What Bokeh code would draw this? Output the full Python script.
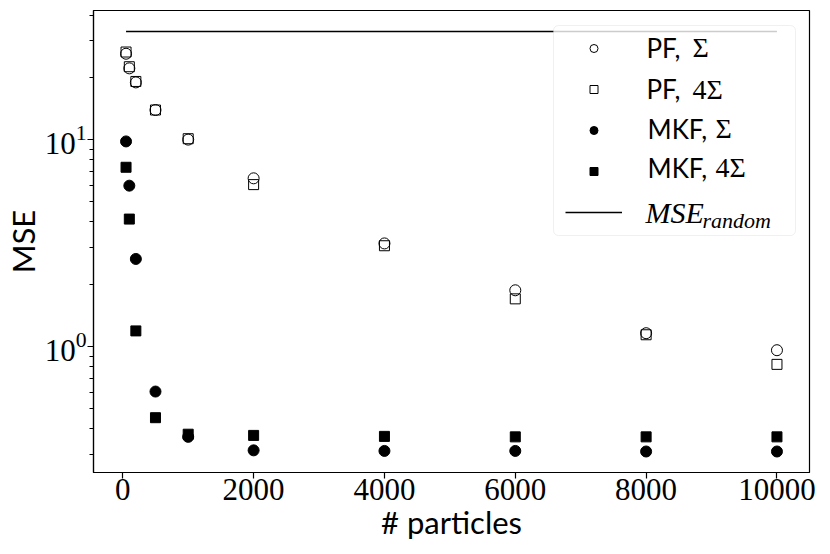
import math
from bokeh.plotting import figure
from bokeh.models import (Range1d, Legend, LegendItem, Label, BoxAnnotation,
                          FixedTicker)
from bokeh.embed import file_html
from bokeh.resources import INLINE

# ---- data ----
particles = [50, 100, 200, 500, 1000, 2000, 4000, 6000, 8000, 10000]
pf_sigma = [26.0, 22.1, 18.9, 13.9, 10.0, 6.5, 3.15, 1.87, 1.16, 0.96]
pf_4sigma = [26.5, 22.5, 19.1, 13.9, 10.1, 6.06, 3.07, 1.70, 1.14, 0.82]
mkf_sigma = [9.8, 5.99, 2.65, 0.606, 0.366, 0.315, 0.313, 0.313, 0.311, 0.311]
mkf_4sigma = [7.35, 4.13, 1.19, 0.453, 0.377, 0.372, 0.368, 0.366, 0.366, 0.366]
mse_random = 33.3

x_ticks = [0, 2000, 4000, 6000, 8000, 10000]
y_ticks = [1, 10]
y_minor = [0.3, 0.4, 0.5, 0.6, 0.7, 0.8, 0.9, 2, 3, 4, 5, 6, 7, 8, 9, 20, 30, 40]

# matplotlib-like 5% margins
xmin, xmax = min(particles), max(particles)
xpad = 0.05 * (xmax - xmin)
allv = pf_sigma + pf_4sigma + mkf_sigma + mkf_4sigma + [mse_random]
lmin, lmax = math.log10(min(allv)), math.log10(max(allv))
lpad = 0.05 * (lmax - lmin)

p = figure(width=830, height=554, y_axis_type="log",
           x_range=Range1d(xmin - xpad, xmax + xpad),
           y_range=Range1d(10 ** (lmin - lpad), 10 ** (lmax + lpad)),
           min_border_left=93, min_border_right=21, min_border_top=10,
           min_border_bottom=82,
           output_backend="svg", toolbar_location=None)

p.xgrid.visible = False
p.ygrid.visible = False
p.outline_line_color = "black"
p.outline_line_width = 1.2
p.background_fill_color = "white"
p.border_fill_color = "white"

r_pf1 = p.scatter(particles, pf_sigma, marker="circle", size=11,
                  fill_color=None, line_color="black", line_width=1)
r_pf4 = p.scatter(particles, pf_4sigma, marker="square", size=10,
                  fill_color=None, line_color="black", line_width=1)
r_mk1 = p.scatter(particles, mkf_sigma, marker="circle", size=11,
                  fill_color="black", line_color="black", line_width=1)
r_mk4 = p.scatter(particles, mkf_4sigma, marker="square", size=10,
                  fill_color="black", line_color="black", line_width=1)
r_line = p.line([xmin, xmax], [mse_random, mse_random],
                line_color="black", line_width=1.6)

# axes
for ax in (p.xaxis[0], p.yaxis[0]):
    ax.axis_line_color = "black"
    ax.axis_line_width = 1.2
    ax.major_tick_line_color = "black"
    ax.major_tick_line_width = 1.2
    ax.major_tick_out = 6
    ax.major_tick_in = 0
    ax.major_label_text_font = "Liberation Serif"
    ax.major_label_text_font_size = "31px"
    ax.major_label_text_color = "black"
    ax.axis_label_text_font = "Lato"
    ax.axis_label_text_font_size = "31px"
    ax.axis_label_text_font_style = "normal"
    ax.axis_label_text_color = "black"

p.xaxis.ticker = FixedTicker(ticks=x_ticks)
p.xaxis.minor_tick_line_color = None
p.xaxis.major_label_standoff = 0
p.xaxis.axis_label = "# particles"
p.xaxis.axis_label_standoff = 0

p.yaxis.ticker = FixedTicker(ticks=y_ticks, minor_ticks=y_minor)
p.yaxis.minor_tick_line_color = "black"
p.yaxis.minor_tick_out = 4
p.yaxis.minor_tick_in = 0
p.yaxis.major_label_standoff = 1
p.yaxis.axis_label = "MSE"
p.yaxis.axis_label_standoff = 0

# legend frame (screen units relative to frame)
box = BoxAnnotation(left=460, right=702, top=447, bottom=237,
                    left_units="screen", right_units="screen",
                    top_units="screen", bottom_units="screen",
                    fill_color="white", fill_alpha=0.8,
                    line_color="#cccccc", line_width=1, border_radius=5)
p.add_layout(box)

legend = Legend(items=[LegendItem(label=" ", renderers=[r]) for r in
                       (r_pf1, r_pf4, r_mk1, r_mk4, r_line)],
                location=(472, 250), glyph_width=57, glyph_height=20,
                spacing=21, padding=0, margin=0, label_standoff=0,
                label_height=20, label_width=1, label_text_font_size="8px",
                background_fill_alpha=0, border_line_alpha=0)
p.add_layout(legend)

sans = dict(text_font="Lato", text_font_size="26px", text_color="black",
            text_baseline="alphabetic", x_units="screen", y_units="screen")
serif = dict(text_font="Liberation Serif", text_font_size="28px",
             text_color="black", text_baseline="alphabetic",
             x_units="screen", y_units="screen")

legend_sans = ["PF,", "PF,", "MKF,", "MKF,"]
legend_serif = ["Σ", "4Σ", "Σ", "4Σ"]
row_y = [424.7, 383.5, 344, 304.7]
sans_x = [553, 553, 554, 554]
serif_x = [599, 599, 622, 622]
for t1, t2, yb, x1, x2 in zip(legend_sans, legend_serif, row_y, sans_x, serif_x):
    p.add_layout(Label(x=x1, y=yb, text=t1, **sans))
    p.add_layout(Label(x=x2, y=yb, text=t2, **serif))

mse = dict(serif)
mse["text_font_size"] = "30px"
p.add_layout(Label(x=552, y=260.3, text="MSE", text_font_style="italic", **mse))
sub = dict(serif)
sub["text_font_size"] = "22px"
p.add_layout(Label(x=609, y=252, text="random", text_font_style="italic", **sub))

open("out.html", "w").write(file_html(p, INLINE))
